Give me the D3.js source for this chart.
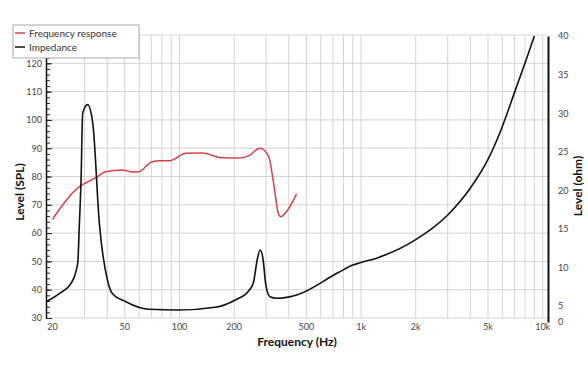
<!DOCTYPE html>
<html>
<head>
<meta charset="utf-8">
<script src="https://cdn.jsdelivr.net/npm/d3@7"></script>
<style>
  body { margin: 0; background: #fff; }
  svg { display: block; font-family: Lato, "Open Sans", sans-serif; }
</style>
</head>
<body>
<svg id="chart" width="588" height="372"></svg>
<script>
// frequency response (dB SPL)
const respFreq = [20, 28.1, 30.6, 34.8, 39.2, 48.6, 55, 59.9, 69, 77, 89, 108, 133, 172, 211, 240, 278, 310, 330, 350, 361, 388, 441];
const respLevel = [64.9, 76.4, 77.8, 79.7, 81.7, 82.3, 81.6, 81.7, 84.9, 85.6, 85.6, 88.2, 88.3, 86.6, 86.5, 87.3, 90.0, 87.0, 77.6, 67.0, 65.8, 67.6, 73.8];
// impedance (ohm)
const impFreq = [18.4, 21.9, 25.3, 27.5, 28.1, 28.7, 29.3, 31.2, 33.3, 36.2, 40.1, 42.6, 50.6, 67.9, 99, 157, 203, 240, 255, 268, 278, 288, 299, 315, 343, 451, 744, 901, 986, 1250, 2000, 3000, 4000, 5000, 5800, 7200, 8000, 9000];
const impOhm = [5.56, 6.65, 7.94, 10.5, 15.7, 21.3, 30.0, 31.1, 28.7, 15.7, 8.37, 6.65, 5.56, 3.97, 3.75, 4.6, 5.78, 6.94, 7.98, 11.0, 12.26, 11.2, 7.7, 6.2, 6.0, 6.5, 9.3, 10.3, 10.6, 11.3, 13.6, 16.8, 20.3, 24.0, 27.4, 33.5, 36.5, 40];

const xTicks = [20, 50, 100, 200, 500, 1000, 2000, 5000, 10000];
const xTickLabels = ["20", "50", "100", "200", "500", "1k", "2k", "5k", "10k"];
const splTicks = [30, 40, 50, 60, 70, 80, 90, 100, 110, 120];
const ohmTicks = [0, 5, 10, 15, 20, 25, 30, 35, 40];

const width = 588, height = 372;
const margin = { top: 35, right: 40, bottom: 54, left: 46 };
const svg = d3.select("#chart");

const x = d3.scaleLog()
    .domain([18.4, 10700])
    .range([margin.left, width - margin.right]);
const y = d3.scaleLinear()
    .domain([30, 130])
    .range([height - margin.bottom, margin.top]);
// right axis: 0 label squeezed at the bottom
const yOhm = d3.scaleLinear()
    .domain([0, 5, 40])
    .range([322, 306, 36]);

// grid
const gridFreqs = [];
[10, 100, 1000].forEach(dec => {
    for (let k = 1; k <= 9; k++) {
        const f = dec * k;
        if (f >= 30 && f <= 10000) gridFreqs.push(f);
    }
});
gridFreqs.push(10000);
svg.append("g")
    .selectAll("line")
    .data(gridFreqs)
    .join("line")
    .attr("x1", d => x(d)).attr("x2", d => x(d))
    .attr("y1", y(130)).attr("y2", y(30))
    .attr("stroke", "#d4d4d4")
    .attr("stroke-width", 1);
svg.append("g")
    .selectAll("line")
    .data(splTicks.concat([130]))
    .join("line")
    .attr("x1", margin.left).attr("x2", width - margin.right)
    .attr("y1", d => y(d)).attr("y2", d => y(d))
    .attr("stroke", "#d4d4d4")
    .attr("stroke-width", 1);

// x labels
svg.append("g")
    .selectAll("text")
    .data(xTicks)
    .join("text")
    .attr("x", d => x(d))
    .attr("y", 330)
    .attr("text-anchor", "middle")
    .style("font-size", "9px")
    .style("fill", "#444")
    .text((d, i) => xTickLabels[i]);

// left axis minor ticks
svg.append("g")
    .attr("transform", `translate(${margin.left},0)`)
    .call(d3.axisLeft(y).tickValues(d3.range(30, 131, 2)).tickSizeInner(-4).tickSizeOuter(0).tickFormat(""))
    .call(g => g.select(".domain").remove())
    .selectAll("line").attr("stroke", "#222");
// left axis
const leftAxis = svg.append("g")
    .attr("transform", `translate(${margin.left},0)`)
    .call(d3.axisLeft(y).tickValues(splTicks).tickSizeInner(-6).tickSizeOuter(0).tickPadding(4));
leftAxis.select(".domain").attr("stroke", "#111").attr("stroke-width", 1.5);
leftAxis.selectAll("line").attr("stroke", "#222");
leftAxis.selectAll("text").style("font-size", "9px").style("fill", "#444").style("font-family", "Lato, sans-serif");

// right axis
const rightAxis = svg.append("g")
    .attr("transform", `translate(${width - margin.right},0)`)
    .call(d3.axisRight(yOhm).tickValues(ohmTicks).tickSize(0).tickPadding(10));
rightAxis.select(".domain").attr("stroke", "#111").attr("stroke-width", 2);
rightAxis.selectAll("text").style("font-size", "9px").style("fill", "#444").style("font-family", "Lato, sans-serif");

// curves
const respLine = d3.line()
    .x(d => x(d[0]))
    .y(d => y(d[1]))
    .curve(d3.curveMonotoneX);
svg.append("path")
    .datum(respFreq.map((f, i) => [f, respLevel[i]]))
    .attr("d", respLine)
    .attr("fill", "none")
    .attr("stroke", "#d9414a")
    .attr("stroke-width", 1.5);

const impLine = d3.line()
    .x(d => x(d[0]))
    .y(d => yOhm(d[1]))
    .curve(d3.curveMonotoneX);
svg.append("path")
    .datum(impFreq.map((f, i) => [f, impOhm[i]]))
    .attr("d", impLine)
    .attr("fill", "none")
    .attr("stroke", "#111")
    .attr("stroke-width", 1.6);

// axis titles
svg.append("text")
    .attr("x", 297)
    .attr("y", 346)
    .attr("text-anchor", "middle")
    .style("font-size", "12px")
    .style("font-weight", "bold")
    .style("fill", "#111")
    .text("Frequency (Hz)");
svg.append("text")
    .attr("transform", "translate(24,192) rotate(-90)")
    .attr("text-anchor", "middle")
    .style("font-size", "12px")
    .style("font-weight", "bold")
    .style("fill", "#111")
    .text("Level (SPL)");
svg.append("text")
    .attr("transform", "translate(582,186) rotate(-90)")
    .attr("text-anchor", "middle")
    .style("font-size", "12px")
    .style("font-weight", "bold")
    .style("fill", "#111")
    .text("Level (ohm)");

// legend
const legend = svg.append("g");
legend.append("rect")
    .attr("x", 13).attr("y", 25)
    .attr("width", 126).attr("height", 33)
    .attr("fill", "#fff")
    .attr("stroke", "#aaa");
[["Frequency response", "#d9414a"], ["Impedance", "#111"]].forEach((d, i) => {
    const row = legend.append("g").attr("transform", `translate(0,${33 + i * 14})`);
    row.append("line")
        .attr("x1", 15).attr("x2", 25)
        .attr("stroke", d[1]).attr("stroke-width", 1.5);
    row.append("text")
        .attr("x", 29).attr("dy", "0.35em")
        .style("font-size", "10px")
        .style("fill", "#333")
        .text(d[0]);
});
</script>
</body>
</html>
